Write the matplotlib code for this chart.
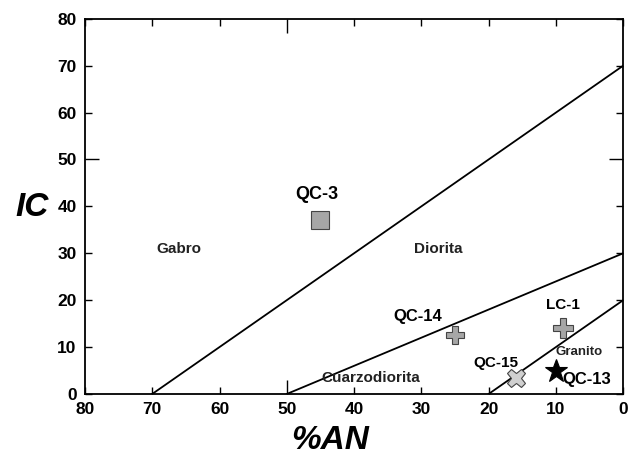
import matplotlib.pyplot as plt

plt.rcParams['font.family'] = ['Liberation Sans', 'DejaVu Sans']

# boundary lines (x = %AN, y = IC)
lines_x = [[70, 0], [50, 0], [20, 0]]
lines_y = [[0, 70], [0, 30], [0, 20]]

# samples
names = ["QC-3", "QC-14", "LC-1", "QC-15", "QC-13"]
an = [45, 25, 9, 16, 10]
ic = [37, 12.5, 14, 3.5, 4.8]
markers = ["s", "P", "P", "X", "*"]
colors = ["#a6a6a6", "#a6a6a6", "#a6a6a6", "#d0d0d0", "black"]
sizes = [13, 13, 15, 13, 17]

# field names
fields = ["Gabro", "Diorita", "Cuarzodiorita", "Granito"]
field_x = [66, 27.5, 37.5, 6.5]
field_y = [31, 31, 3.5, 9]
field_fs = [11, 11, 11, 9.5]

fig = plt.figure(figsize=(6.34, 4.69), dpi=100)
ax = fig.add_axes([0.134, 0.160, 0.849, 0.80])

for xs, ys in zip(lines_x, lines_y):
    ax.plot(xs, ys, color="black", lw=1.3)

for i in range(len(names)):
    ax.plot(an[i], ic[i], marker=markers[i], color=colors[i], ms=sizes[i],
            mec="#444444" if markers[i] != "*" else "black", mew=0.8, ls="none")

for f, x, y, fs in zip(fields, field_x, field_y, field_fs):
    ax.text(x, y, f, fontsize=fs, ha="center", va="center", fontweight="bold",
            color="#222222")

# sample labels
ax.text(45.5, 42.5, "QC-3", fontsize=13, fontweight="bold", ha="center", va="center")
ax.text(30.5, 16.5, "QC-14", fontsize=12, fontweight="bold", ha="center", va="center")
ax.text(9, 19, "LC-1", fontsize=11, ha="center", va="center", fontweight="bold")
ax.text(19, 6.5, "QC-15", fontsize=11, ha="center", va="center", fontweight="bold")
ax.text(9, 3, "QC-13", fontsize=12, fontweight="bold", ha="left", va="center")

ax.set_xlim(80, 0)
ax.set_ylim(0, 80)
ax.set_xticks(range(80, -1, -10))
ax.set_yticks(range(0, 81, 10))
ax.tick_params(direction="in", length=5, width=1, top=True, right=True, pad=6,
               labelsize=12.5)
for lbl in ax.get_xticklabels() + ax.get_yticklabels():
    lbl.set_fontweight("bold")
# the 50 ticks are drawn longer
for t in ax.xaxis.get_major_ticks() + ax.yaxis.get_major_ticks():
    if t.get_loc() == 50:
        t.tick1line.set_markersize(10)
        t.tick2line.set_markersize(10)
for s in ax.spines.values():
    s.set_linewidth(1.3)

fig.text(0.05, 0.558, "IC", fontsize=24, fontweight="bold", style="italic",
         ha="center", va="center")
fig.text(0.52, 0.06, "%AN", fontsize=24, fontweight="bold", style="italic",
         ha="center", va="center")

fig.savefig("out.png", dpi=100)
